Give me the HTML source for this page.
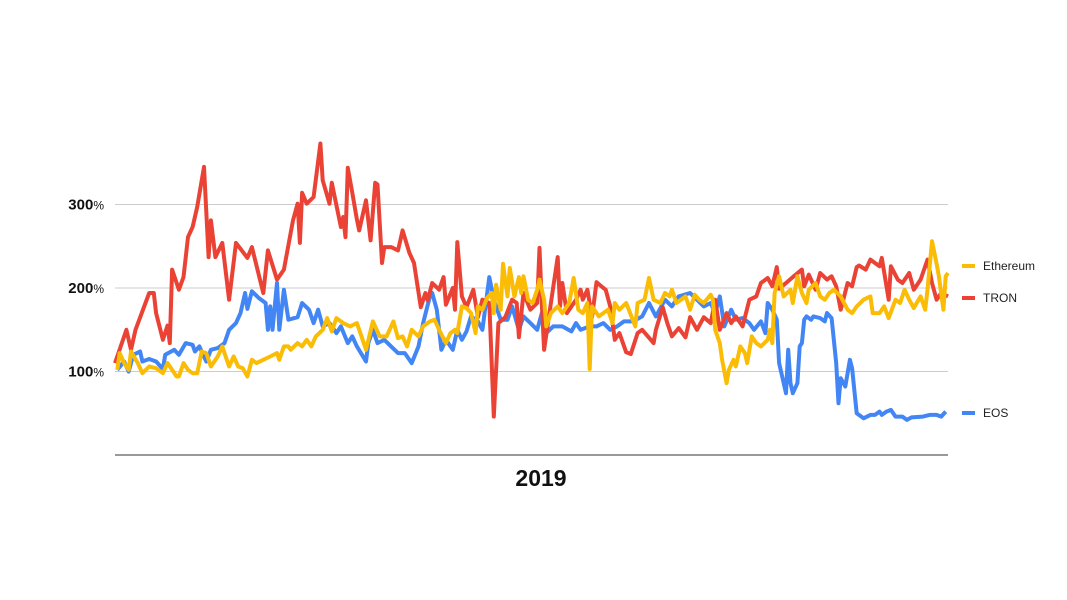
<!DOCTYPE html>
<html><head><meta charset="utf-8"><style>
html,body{margin:0;padding:0;background:#fff;}
svg{display:block;font-family:"Liberation Sans",sans-serif;}
</style></head><body>
<svg id="chart" width="1067" height="600" viewBox="0 0 1067 600">
<g id="grid"></g>
<g id="ylabels"></g>
<g id="series"></g>
<line x1="115" y1="455" x2="948" y2="455" stroke="#333" stroke-width="1"/>
<text x="541" y="486" text-anchor="middle" font-size="23" font-weight="bold" fill="#111">2019</text>
<g id="legend"></g>
</svg>
<script>
const yTicks=[100,200,300];
const seriesNames=["Ethereum","TRON","EOS"];
const tronDays=[0,5,7,9,15,17,18,21,23,24,25,28,30,32,34,36,39,41,42,44,47,50,53,58,60,65,67,71,74,78,80,81,82,84,87,90,91,94,95,99,100,101,102,104,106,107,110,112,114,115,117,118,121,124,126,129,131,134,136,137,139,142,144,145,148,149,150,152,154,157,159,161,164,166,168,171,174,176,177,179,182,185,186,187,188,191,194,195,196,198,202,204,205,207,209,211,214,215,217,219,221,224,226,229,231,236,237,240,242,244,247,250,252,255,258,261,263,265,268,270,272,275,278,281,283,286,288,290,291,294,297,301,302,304,307,309,312,314,316,318,321,323,325,326,329,331,333,335,336,339,340,343,345,348,350,353,356,358,360,362,365];
const tronVals=[110,150,126,150,194,194,170,138,155,134,222,198,213,261,273,297,345,237,281,237,254,186,254,236,249,194,245,210,222,281,301,254,314,301,309,373,329,301,326,273,285,261,344,314,282,269,305,257,326,324,230,249,249,245,269,242,230,177,194,185,206,198,213,180,200,174,255,190,177,198,165,186,182,46,158,165,186,182,141,194,174,182,248,182,126,182,237,178,206,170,186,198,186,198,165,207,200,198,178,138,146,123,121,146,150,134,150,177,158,142,152,141,165,150,165,158,186,150,170,158,166,154,186,190,206,212,202,225,199,206,213,222,202,216,198,218,210,214,202,174,206,202,225,227,222,234,230,226,236,186,226,210,206,218,198,210,234,206,186,194,190];
const eosDays=[1,4,6,8,11,12,15,18,21,22,26,28,31,34,35,37,40,42,45,48,50,53,55,57,58,60,63,66,67,68,69,71,72,74,76,80,82,85,87,89,91,94,97,99,102,104,106,110,111,113,115,118,121,124,127,129,130,133,135,138,139,141,143,145,148,150,152,154,156,159,161,164,166,169,172,174,177,179,182,185,187,189,192,196,200,202,204,208,211,214,217,220,223,227,231,234,237,241,244,247,252,255,258,261,263,265,267,270,272,275,278,280,283,285,286,288,290,291,294,295,296,297,299,300,301,302,303,305,306,309,311,312,314,316,317,318,320,322,323,325,328,331,333,335,336,338,340,342,345,347,349,354,357,360,362,364];
const eosVals=[102,112,100,120,124,112,115,112,103,120,126,120,134,132,124,130,112,126,128,134,150,158,170,194,175,196,188,182,150,178,150,206,150,198,162,165,182,174,158,174,154,158,146,154,134,142,130,112,134,150,134,138,130,122,122,114,110,130,158,190,194,174,126,138,126,150,138,148,166,160,150,213,186,162,162,178,150,166,158,150,170,146,154,154,148,158,150,154,154,158,150,154,160,160,166,182,166,186,178,190,194,186,178,182,170,190,154,174,162,164,158,150,160,146,182,174,162,110,74,126,86,74,86,130,134,162,166,162,166,164,160,170,164,110,62,92,82,114,104,50,44,48,48,52,48,52,54,46,46,42,45,46,48,48,46,52];
const ethDays=[1,2,4,6,7,10,12,15,18,21,23,25,27,28,30,32,34,36,38,40,42,45,47,48,50,52,54,56,58,60,62,65,68,71,72,74,76,77,80,82,84,86,88,91,93,95,97,100,103,106,108,110,113,116,119,122,124,126,128,130,133,135,138,140,142,145,147,149,150,152,154,156,158,159,161,163,165,166,167,169,170,172,173,175,177,178,179,181,183,185,186,188,189,191,194,196,199,201,203,205,207,208,209,212,216,218,219,221,224,228,229,232,234,236,239,241,243,244,246,250,252,254,256,258,261,262,263,265,266,268,269,271,272,274,276,277,279,281,283,286,287,288,289,291,293,296,297,299,301,303,304,307,309,311,313,315,318,321,323,325,328,331,332,335,337,339,342,344,346,348,350,353,355,356,358,360,361,363,364,365];
const ethVals=[102,122,110,102,124,110,98,106,104,98,110,102,94,94,110,102,98,98,124,122,106,118,130,122,106,118,106,104,94,114,110,114,118,122,114,130,130,126,134,130,138,130,142,150,164,148,164,158,154,158,142,126,160,142,142,160,140,142,130,150,142,154,160,162,150,134,146,150,146,178,176,170,146,178,174,188,194,170,204,174,229,190,224,190,213,194,214,186,182,198,210,186,154,170,178,170,182,212,174,170,182,103,178,166,174,158,182,174,182,154,182,186,212,186,182,194,190,198,182,190,174,192,186,182,192,186,150,134,114,86,102,114,106,130,122,110,142,134,130,138,150,134,194,214,190,198,182,214,194,182,198,206,190,186,194,198,190,174,170,178,186,190,170,170,178,164,186,182,198,186,176,190,174,198,256,229,214,174,214,218];

const X0=115,X1=948,Y0=455,PX=0.835;
function xs(d){return X0+d*(X1-X0)/365;}
function ys(v){return Y0-v*PX;}
const NS="http://www.w3.org/2000/svg";
const grid=document.getElementById('grid'),yl=document.getElementById('ylabels');
yTicks.forEach(t=>{
  const l=document.createElementNS(NS,'line');
  l.setAttribute('x1',X0);l.setAttribute('x2',X1);l.setAttribute('y1',ys(t));l.setAttribute('y2',ys(t));
  l.setAttribute('stroke','#cccccc');l.setAttribute('stroke-width','1');
  
  
  grid.appendChild(l);
  const tx=document.createElementNS(NS,'text');
  tx.setAttribute('x',104);tx.setAttribute('y',ys(t)+5);tx.setAttribute('text-anchor','end');
  tx.setAttribute('fill','#111');
  tx.innerHTML='<tspan font-size="15" font-weight="bold">'+t+'</tspan><tspan font-size="12">%</tspan>';
  
  
  yl.appendChild(tx);
});
const ser=document.getElementById('series');
function draw(days,vals,color,name){
  const p=document.createElementNS(NS,'polyline');
  p.setAttribute('points',days.map((d,i)=>xs(d).toFixed(1)+','+ys(vals[i]).toFixed(1)).join(' '));
  p.setAttribute('fill','none');p.setAttribute('stroke',color);p.setAttribute('stroke-width','4');
  p.setAttribute('stroke-linejoin','round');
  
  
  ser.appendChild(p);
}
draw(eosDays,eosVals,'#4285f4','eos-line');
draw(tronDays,tronVals,'#ea4335','tron-line');
draw(ethDays,ethVals,'#fbbc05','ethereum-line');
const leg=document.getElementById('legend');
const legY=[266,298,413],legC=['#fbbc05','#ea4335','#4285f4'];
seriesNames.forEach((n,i)=>{
  const g=document.createElementNS(NS,'g');
  
  
  g.innerHTML='<line x1="962" x2="975" y1="'+legY[i]+'" y2="'+legY[i]+'" stroke="'+legC[i]+'" stroke-width="4"/><text x="983" y="'+(legY[i]+4)+'" font-size="12" fill="#222">'+n+'</text>';
  leg.appendChild(g);
});
</script>
</body></html>
